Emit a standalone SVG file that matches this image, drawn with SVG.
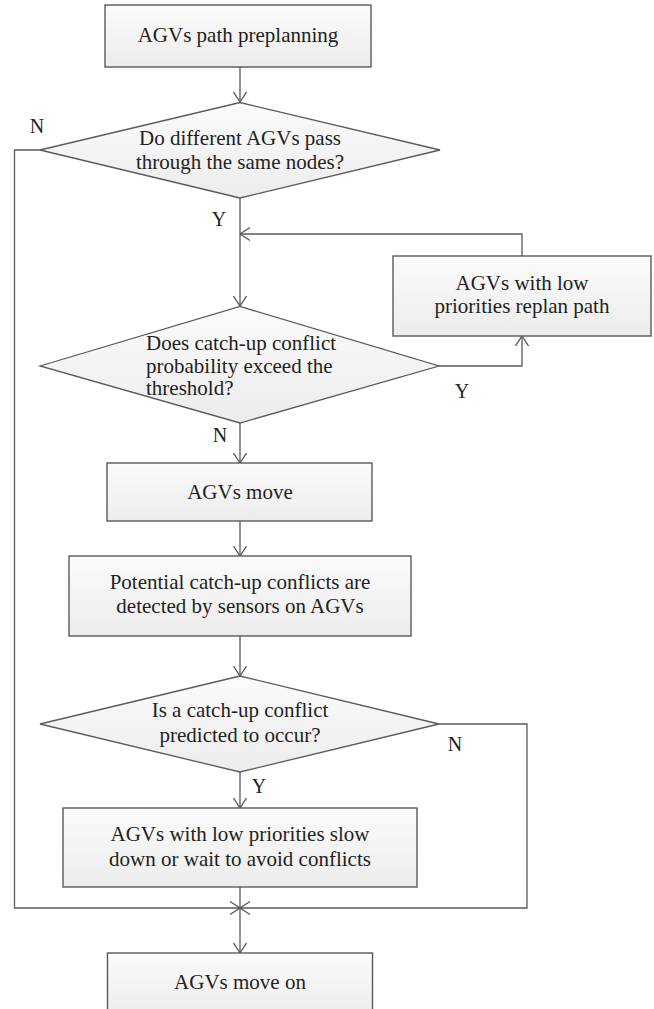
<svg xmlns="http://www.w3.org/2000/svg" width="654" height="1009" viewBox="0 0 654 1009" font-family="Liberation Serif, Tinos, Times New Roman, DejaVu Serif, serif">
<style>
.box{fill:url(#g);stroke:#5a5a5a;stroke-width:1.4}
.dia{fill:url(#g);stroke:#5a5a5a;stroke-width:1.3}
.t{font-size:21px;fill:#231f20;text-anchor:middle}
.tl{font-size:21px;fill:#231f20;text-anchor:start}
.lbl{font-size:20px;fill:#231f20;text-anchor:middle}
.c{fill:none;stroke:#5a5a5a;stroke-width:1.3}
.a{marker-end:url(#ah)}
</style>
<defs>
<linearGradient id="g" x1="0" y1="0" x2="0" y2="1">
<stop offset="0" stop-color="#fbfbfb"/>
<stop offset="1" stop-color="#ececec"/>
</linearGradient>
<marker id="ah" markerUnits="userSpaceOnUse" viewBox="0 0 10 14" refX="10" refY="7" markerWidth="10" markerHeight="14" orient="auto">
<path d="M0,0.5 L10,7 L0,13.5" fill="none" stroke="#5a5a5a" stroke-width="1.3"/>
</marker>
</defs>

<g id="connectors">
<path class="c a" d="M240,67 V102"/>
<path class="c a" d="M240,198 V306"/>
<path class="c a" d="M522,256 V234 H240"/>
<path class="c a" d="M439,366 H522 V336"/>
<path class="c a" d="M240,423 V463"/>
<path class="c a" d="M240,521 V556"/>
<path class="c a" d="M240,636 V676"/>
<path class="c a" d="M240,772 V808"/>
<path class="c a" d="M40,150 H14.5 V908 H240"/>
<path class="c a" d="M439,724 H527 V908 H240"/>
<path class="c" d="M240,887 V908"/>
<path class="c a" d="M240,908 V953"/>
<text class="lbl" x="37" y="133">N</text>
<text class="lbl" x="219" y="226">Y</text>
<text class="lbl" x="462" y="398">Y</text>
<text class="lbl" x="220" y="442">N</text>
<text class="lbl" x="455" y="751">N</text>
<text class="lbl" x="259" y="793">Y</text>
</g>

<g id="n1">
<rect class="box" x="105" y="5" width="266" height="62"/>
<text class="t" x="238" y="42">AGVs path preplanning</text>
</g>

<g id="d1">
<polygon class="dia" points="40,150 240,102.5 440,150 240,198"/>
<text class="t" x="240" y="145">Do different AGVs pass</text>
<text class="t" x="240" y="169">through the same nodes?</text>
</g>

<g id="n2">
<rect class="box" x="393" y="256" width="258" height="80"/>
<text class="t" x="522" y="290">AGVs with low</text>
<text class="t" x="522" y="313">priorities replan path</text>
</g>

<g id="d2">
<polygon class="dia" points="40,366 240,306.5 439,366 240,423"/>
<text class="tl" x="146" y="350">Does catch-up conflict</text>
<text class="tl" x="146" y="372.5">probability exceed the</text>
<text class="tl" x="146" y="395">threshold?</text>
</g>

<g id="n3">
<rect class="box" x="107" y="463" width="265" height="58"/>
<text class="t" x="240" y="499">AGVs move</text>
</g>

<g id="n4">
<rect class="box" x="69" y="556" width="342" height="80"/>
<text class="t" x="240" y="589">Potential catch-up conflicts are</text>
<text class="t" x="240" y="613">detected by sensors on AGVs</text>
</g>

<g id="d3">
<polygon class="dia" points="40,724 240,676 439,724 240,772"/>
<text class="t" x="240" y="717">Is a catch-up conflict</text>
<text class="t" x="240" y="742">predicted to occur?</text>
</g>

<g id="n5">
<rect class="box" x="63" y="808" width="354" height="79"/>
<text class="t" x="240" y="841">AGVs with low priorities slow</text>
<text class="t" x="240" y="866">down or wait to avoid conflicts</text>
</g>

<g id="n6">
<rect class="box" x="107.5" y="953" width="265" height="62"/>
<text class="t" x="240" y="989">AGVs move on</text>
</g>
</svg>
